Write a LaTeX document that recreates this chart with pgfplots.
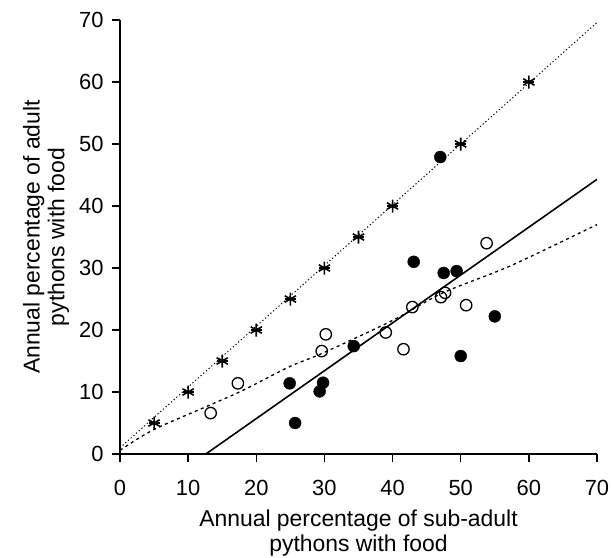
\documentclass[border=0pt]{standalone}
\usepackage{pgfplots}
\pgfplotsset{compat=1.18}
\usepackage{fontspec}
\setmainfont{Liberation Sans}
\begin{document}
\begin{tikzpicture}
\begin{axis}[
  scale only axis,
  width=477bp, height=434bp,
  xmin=0, xmax=70, ymin=0, ymax=70,
  axis lines*=left,
  axis line style={line width=1.3bp},
  xtick={0,10,...,70}, ytick={0,10,...,70},
  tick align=outside,
  major tick length=8bp,
  tick style={line width=1.3bp, black},
  /pgf/number format/assume math mode=true,
  ticklabel style={font=\fontsize{22}{24}\selectfont},
  xticklabel style={yshift=-15bp},
  yticklabel style={xshift=-5bp},
  label style={font=\fontsize{23}{25}\selectfont, align=center},
  xlabel={Annual percentage of sub-adult\\pythons with food},
  ylabel={Annual percentage of adult\\pythons with food},
  xlabel style={at={(axis description cs:0.5,-0.183)}, anchor=center},
  ylabel style={at={(axis description cs:-0.155,0.5)}, anchor=center},
  clip=false,
]
% 1:1 dotted line
\addplot[black, line width=1bp, dash pattern=on 1.2bp off 2.4bp] coordinates {(0,1) (70,69.6)};
% dashed smooth curve
\addplot[black, line width=1.3bp, dash pattern=on 3bp off 3.5bp, smooth] coordinates {
(0,0.6) (4.9,3.9) (13.2,7.9) (18.1,10.3) (24.9,14.1) (29.8,16.3) (40.1,21.6) (47.4,26.0) (57.2,30.3) (70,37.0)};
% regression solid line
\addplot[black, line width=1.6bp] coordinates {(12.6,0) (70,44.3)};
% asterisks
\addplot[only marks, mark=asterisk, mark size=6.5bp, mark options={line width=1.6bp, black}] coordinates {
(5,5) (10,10) (15,15) (20,20) (25,25) (30,30) (35,35) (40,40) (50,50) (60,60)};
\addplot[only marks, mark=-, mark size=5.5bp, mark options={line width=1.4bp, black}] coordinates {
(5,5) (10,10) (15,15) (20,20) (25,25) (30,30) (35,35) (40,40) (50,50) (60,60)};
% open circles
\addplot[only marks, mark=o, mark size=5.7bp, mark options={line width=1.3bp, black, fill=white}] coordinates {
(53.8,34.0) (47.7,26.0) (47.1,25.3) (42.9,23.7) (50.8,24.0) (39.0,19.6) (41.6,16.9)
(30.2,19.3) (29.6,16.6) (17.3,11.4) (13.3,6.6)};
% filled circles
\addplot[only marks, mark=*, mark size=6bp, mark options={black, fill=black}] coordinates {
(47.0,47.9) (43.1,31.0) (47.5,29.2) (49.4,29.5) (55.0,22.2) (50.0,15.8) (34.3,17.4)
(24.9,11.4) (29.8,11.5) (29.3,10.1) (25.7,5.0)};
\end{axis}
\pgfresetboundingbox
\useasboundingbox (-120bp,-104bp) rectangle (491bp,454bp);
\end{tikzpicture}
\end{document}
